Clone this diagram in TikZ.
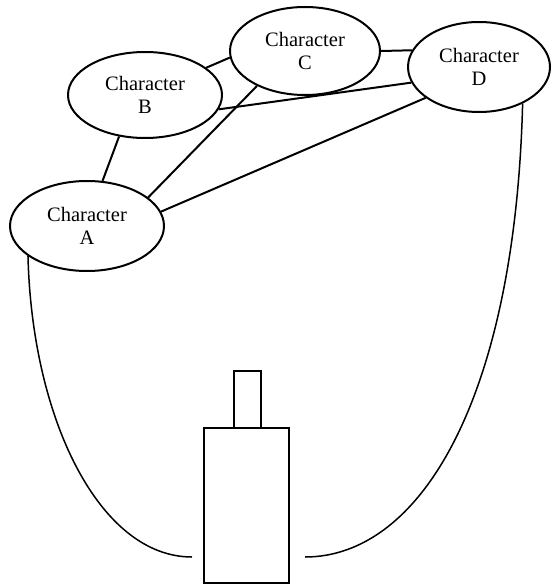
\documentclass[tikz,border=0pt]{standalone}
\usepackage{fontspec}
\setmainfont{Liberation Serif}
\newfontfamily\charfont{Liberation Serif}
\usetikzlibrary{shapes.geometric}

\begin{document}
\begin{tikzpicture}[x=1pt, y=-1pt,
  charnode/.style={draw, ellipse, line width=2pt, inner sep=0pt, align=center,
    font={\charfont\fontsize{20.5}{23}\selectfont}},
  tie/.style={line width=2pt},
  sightline/.style={line width=1.5pt},
  boxpart/.style={draw, rectangle, line width=1.5pt, inner sep=0pt}]
  \useasboundingbox (0,0) rectangle (551,585);

  % characters
  \node[charnode, minimum width=154pt, minimum height=90pt] (A) at (87,226) {Character\\A};
  \node[charnode, minimum width=154pt, minimum height=86pt] (B) at (145,95) {Character\\B};
  \node[charnode, minimum width=150pt, minimum height=88pt] (C) at (305,51) {Character\\C};
  \node[charnode, minimum width=142pt, minimum height=90pt] (D) at (479,67) {Character\\D};

  % relationships between the characters
  \draw[tie] (A.71) -- (B.238);
  \draw[tie] (A.25) -- (C.216);
  \draw[tie] (A.11.6) -- (D.210);
  \draw[tie] (B.24.7) -- (C.185);
  \draw[tie] (B.-11.6) -- (D.193.5);
  \draw[tie] (C.0) -- (D.166.4);

  % camera
  \node[boxpart, minimum width=27pt, minimum height=57pt] (neck) at (247.5,399.5) {};
  \node[boxpart, minimum width=85pt, minimum height=155pt] (body) at (246.5,505.5) {};

  % sight lines from the outer characters
  \coordinate (leftend) at (192,557);
  \coordinate (rightend) at (305,557);
  \draw[sightline] (A.207) .. controls (32,420) and (100,557) .. (leftend);
  \draw[sightline] (D.-40) .. controls (515,400) and (420,557) .. (rightend);
\end{tikzpicture}
\end{document}
